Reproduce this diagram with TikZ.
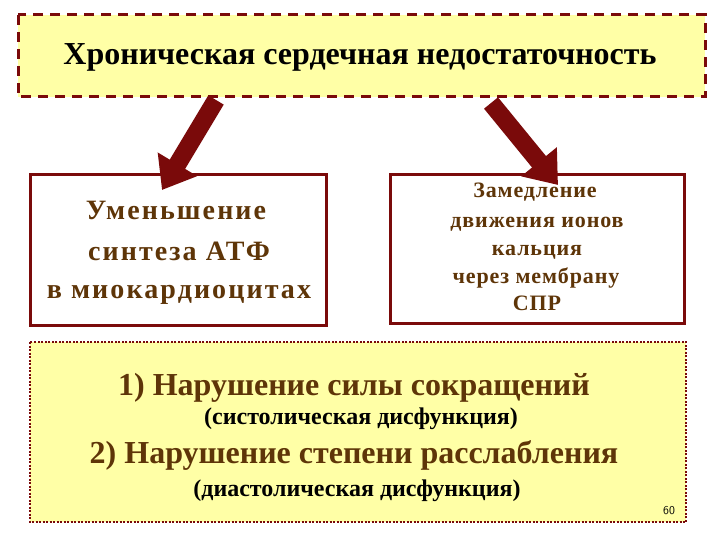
\documentclass[tikz,border=0pt]{standalone}
\usepackage{fontspec}
\setmainfont{Liberation Serif}
\usetikzlibrary{arrows.meta}
\definecolor{dred}{HTML}{7A0A0A}
\definecolor{lyel}{HTML}{FFFFA6}
\definecolor{brn}{HTML}{5E3508}
\tikzset{
  topbox/.style={draw=dred, line width=3pt, dash pattern=on 10pt off 7pt, fill=lyel},
  midbox/.style={draw=dred, line width=3pt, fill=white},
  botbox/.style={draw=dred, line width=2.5pt, dash pattern=on 2pt off 1.5pt, fill=lyel},
  bigarrow/.style={draw=dred, line width=18pt, -{Triangle[width=44pt,length=30pt]}},
  txt/.style={anchor=base, inner sep=0pt, font=\bfseries},
  lefttxt/.style={txt, text=brn, font=\bfseries\fontsize{28}{32}\selectfont\addfontfeature{LetterSpace=7.5}},
  righttxt/.style={txt, text=brn, font=\bfseries\fontsize{22}{26}\selectfont\addfontfeature{LetterSpace=4}},
  bigtxt/.style={txt, text=brn, font=\bfseries\fontsize{32}{36}\selectfont},
  subtxt/.style={txt, text=black, font=\bfseries\fontsize{24}{28}\selectfont}
}
\begin{document}
\begin{tikzpicture}[x=1pt,y=-1pt]
\useasboundingbox (0,0) rectangle (720,540);
\fill[white] (0,0) rectangle (720,540);
% boxes
\draw[topbox] (18,15) rectangle (705,97);
\node[txt, font=\bfseries\fontsize{32}{36}\selectfont] (top) at (360,65) {Хроническая сердечная недостаточность};
\draw[midbox] (30,175) rectangle (326,325);
\draw[midbox] (390,175) rectangle (684,323);
\draw[botbox] (30,342) rectangle (686,522);
% left box text
\node[lefttxt] (l1) at (176,220) {Уменьшение};
\node[lefttxt] (l2) at (179,260) {синтеза АТФ};
\node[lefttxt] (l3) at (179,298) {в миокардиоцитах};
% right box text
\node[righttxt] (r1) at (535,198) {Замедление};
\node[righttxt] (r2) at (537,227) {движения ионов};
\node[righttxt] (r3) at (537,255) {кальция};
\node[righttxt] (r4) at (536,283) {через мембрану};
\node[righttxt] (r5) at (537,310) {СПР};
% bottom
\node[bigtxt] (b1) at (354,395) {1) Нарушение силы сокращений};
\node[subtxt] (b2) at (361,424) {(систолическая дисфункция)};
\node[bigtxt] (b3) at (354,463) {2) Нарушение степени расслабления};
\node[subtxt] (b4) at (357,496) {(диастолическая дисфункция)};
\node[inner sep=0pt, font=\sffamily\fontsize{12}{14}\selectfont] (num) at (669,511) {60};
% arrows
\coordinate (a1s) at (216,100);
\coordinate (a1e) at (162,190);
\coordinate (a2s) at (491,103);
\coordinate (a2e) at (558,185);
\draw[bigarrow] (a1s) -- (a1e);
\draw[bigarrow] (a2s) -- (a2e);
\end{tikzpicture}
\end{document}
